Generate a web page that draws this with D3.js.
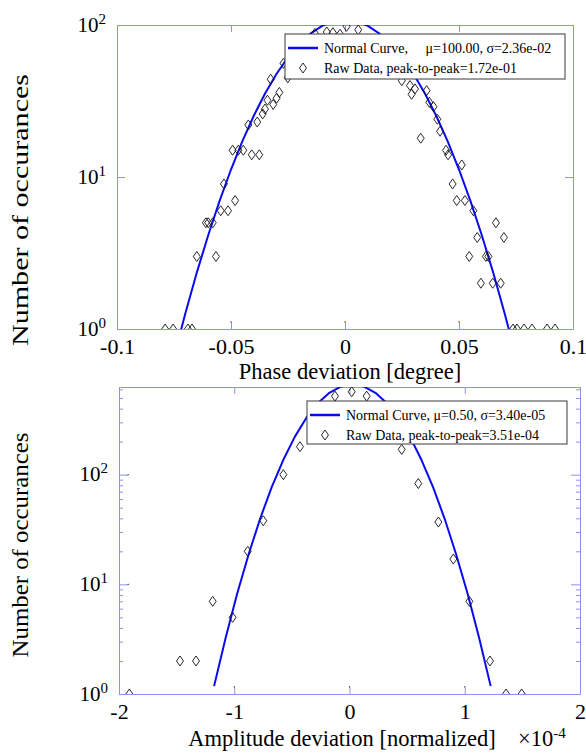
<!DOCTYPE html>
<html>
<head>
<meta charset="utf-8">
<script src="https://cdn.jsdelivr.net/npm/d3@7"></script>
<style>
  body { margin: 0; background: #fff; }
  svg { display: block; }
  text { font-family: "Liberation Serif", "Times New Roman", serif; fill: #000; }
</style>
</head>
<body>
<svg id="chart" width="586" height="753"></svg>
<script>
// ---- Phase deviation histogram (degree) ----
const phaseCurveX = [-0.075, -0.070, -0.065, -0.060, -0.055, -0.050, -0.045, -0.040, -0.035, -0.030,
                     -0.025, -0.020, -0.015, -0.010, -0.005, 0.000, 0.005, 0.010, 0.015, 0.020,
                     0.025, 0.030, 0.035, 0.040, 0.045, 0.050, 0.055, 0.060, 0.065, 0.070, 0.075];
const phaseCurveY = [0.66, 1.27, 2.35, 4.14, 6.97, 11.2, 17.2, 25.3, 35.6, 47.8,
                     61.3, 75.2, 88.1, 98.6, 105.6, 108, 105.6, 98.6, 88.1, 75.2,
                     61.3, 47.8, 35.6, 25.3, 17.2, 11.2, 6.97, 4.14, 2.35, 1.27, 0.66];
const phaseRawX = [-0.0789, -0.0754, -0.0689, -0.0671, -0.0650, -0.0610, -0.0600, -0.0580, -0.0566, -0.0545,
                   -0.0531, -0.0513, -0.0493, -0.0482, -0.0468, -0.0446, -0.0424, -0.0409, -0.0385, -0.0376,
                   -0.0361, -0.0351, -0.0340, -0.0326, -0.0315, -0.0300, -0.0288, -0.0270, -0.0251,
                   -0.0132, -0.0080, -0.0053, -0.0022, 0.0007, 0.0058,
                   0.0249, 0.0285, 0.0292, 0.0307, 0.0332, 0.0358, 0.0370, 0.0388, 0.0405, 0.0417,
                   0.0443, 0.0452, 0.0472, 0.0490, 0.0512, 0.0526, 0.0545, 0.0563, 0.0580, 0.0596,
                   0.0618, 0.0629, 0.0648, 0.0662, 0.0683, 0.0697, 0.0737, 0.0754, 0.0785, 0.0820,
                   0.0886, 0.0921];
const phaseRawCount = [1, 1, 1, 1, 3, 5, 5, 5, 3, 6,
                       9, 6, 15, 7, 15, 15, 22, 14, 23, 14,
                       26, 28, 32, 44, 30, 33, 36, 56, 45,
                       88, 90, 89, 87, 98, 93,
                       43, 40, 35, 38, 18, 37, 31, 29, 24, 20,
                       15, 14, 9, 7, 12, 7, 3, 6, 4, 2,
                       3, 3, 2, 5, 2, 4, 1, 1, 1, 1,
                       1, 1];
const phaseXTicks = [-0.1, -0.05, 0, 0.05, 0.1];
const phaseLegend = ["Normal Curve,     \u03bc=100.00, \u03c3=2.36e-02", "Raw Data, peak-to-peak=1.72e-01"];

// ---- Amplitude deviation histogram (normalized) ----
const ampCurveX = [-1.175e-4, -1.075e-4, -0.975e-4, -0.875e-4, -0.775e-4, -0.675e-4, -0.575e-4, -0.475e-4,
                   -0.375e-4, -0.275e-4, -0.175e-4, -0.075e-4, 0.025e-4, 0.125e-4, 0.225e-4, 0.325e-4,
                   0.425e-4, 0.525e-4, 0.625e-4, 0.725e-4, 0.825e-4, 0.925e-4, 1.025e-4, 1.125e-4, 1.225e-4];
const ampCurveY = [1.18, 3.24, 8.2, 18.8, 39.8, 77, 136, 221,
                   329, 448, 558, 636, 665, 636, 558, 448,
                   329, 221, 136, 77, 39.8, 18.8, 8.2, 3.24, 1.18];
const ampRawX = [-1.910e-4, -1.471e-4, -1.332e-4, -1.187e-4, -1.014e-4, -0.883e-4, -0.748e-4, -0.574e-4,
                 -0.430e-4, -0.126e-4, 0.019e-4, 0.149e-4, 0.453e-4, 0.597e-4, 0.771e-4, 0.901e-4,
                 1.040e-4, 1.219e-4, 1.358e-4, 1.494e-4];
const ampRawCount = [1, 2, 2, 7, 5, 20, 38, 100,
                     180, 520, 570, 520, 170, 83, 37, 17,
                     7, 2, 1, 1];
const ampXTicks = [-2e-4, -1e-4, 0, 1e-4, 2e-4];
const ampLegend = ["Normal Curve, \u03bc=0.50, \u03c3=3.40e-05", "Raw Data, peak-to-peak=3.51e-04"];

const decadeTicks = [1, 10, 100];

const AXIS_COLOR = "#9090ee";
const CURVE_COLOR = "#0a0af0";

const svg = d3.select("#chart");

function diamond(cx, cy, hw = 3.5, hh = 5) {
  return `M${cx},${cy - hh}L${cx + hw},${cy}L${cx},${cy + hh}L${cx - hw},${cy}Z`;
}

function drawPanel(cfg) {
  const { id, box, xDomain, yDomain, xTicks, xFormat, curveX, curveY, rawX, rawY,
          minorTicks, yTickLen, yTickDots, legend, xLabel, yLabel, yLabelBox } = cfg;
  const x = d3.scaleLinear().domain(xDomain).range([box.left, box.right]);
  const y = d3.scaleLog().domain(yDomain).range([box.bottom, box.top]);
  const g = svg.append("g").attr("id", id);

  g.append("clipPath").attr("id", id + "-clip")
    .append("rect")
    .attr("x", box.left).attr("y", box.top)
    .attr("width", box.right - box.left).attr("height", box.bottom - box.top);

  // axes box and ticks
  const styleAxis = sel => {
    sel.selectAll(".domain").attr("stroke", AXIS_COLOR).attr("stroke-width", 1);
    sel.selectAll(".tick line").attr("stroke", AXIS_COLOR).attr("stroke-width", 1);
  };
  const xb = g.append("g").attr("transform", `translate(0,${box.bottom})`)
    .call(d3.axisBottom(x).tickValues(xTicks).tickSizeInner(-7).tickSizeOuter(0)
      .tickPadding(9).tickFormat(xFormat));
  xb.selectAll(".tick text").attr("font-size", 22).attr("font-family", "Liberation Serif");
  styleAxis(xb);
  const xt = g.append("g").attr("transform", `translate(0,${box.top})`)
    .call(d3.axisTop(x).tickValues(xTicks).tickSizeInner(-7).tickSizeOuter(0).tickFormat(""));
  styleAxis(xt);

  const yl = g.append("g").attr("transform", `translate(${box.left},0)`)
    .call(d3.axisLeft(y).tickValues(decadeTicks).tickSizeInner(-yTickLen).tickSizeOuter(0)
      .tickPadding(11).tickFormat(""));
  styleAxis(yl);
  yl.selectAll(".tick text").each(function (d) {
    const t = d3.select(this).text(null)
      .attr("font-size", 21).attr("font-family", "Liberation Serif")
      .attr("text-anchor", "end").attr("dy", "0.3em");
    t.append("tspan").text("10");
    t.append("tspan").attr("font-size", 15).attr("dy", "-0.55em").text(Math.round(Math.log10(d)));
  });
  const yr = g.append("g").attr("transform", `translate(${box.right},0)`)
    .call(d3.axisRight(y).tickValues(decadeTicks).tickSizeInner(-yTickLen).tickSizeOuter(0).tickFormat(""));
  styleAxis(yr);

  if (minorTicks) {
    const minors = y.ticks().filter(v => !decadeTicks.includes(v));
    const ml = g.append("g").attr("transform", `translate(${box.left},0)`)
      .call(d3.axisLeft(y).tickValues(minors).tickSizeInner(-4).tickSizeOuter(0).tickFormat(""));
    ml.select(".domain").remove();
    styleAxis(ml);
    const mr = g.append("g").attr("transform", `translate(${box.right},0)`)
      .call(d3.axisRight(y).tickValues(minors).tickSizeInner(-4).tickSizeOuter(0).tickFormat(""));
    mr.select(".domain").remove();
    styleAxis(mr);
  }

  // dark tips at the inner end of the bottom ticks
  g.append("g").selectAll("rect").data(xTicks.slice(1, -1)).join("rect")
    .attr("x", d => x(d) - 0.5).attr("y", box.bottom - 8).attr("width", 1).attr("height", 1.5)
    .attr("fill", "#444");
  if (yTickDots) {
    g.append("g").selectAll("rect").data(decadeTicks.slice(1)).join("rect")
      .attr("x", box.left + yTickLen - 0.5).attr("y", d => y(d) - 0.5).attr("width", 1.5).attr("height", 1)
      .attr("fill", "#444");
  }

  // normal curve and raw data markers
  const plot = g.append("g").attr("clip-path", `url(#${id}-clip)`);
  const line = d3.line().x(d => x(d[0])).y(d => y(d[1]));
  plot.append("path")
    .datum(d3.zip(curveX, curveY))
    .attr("d", line)
    .attr("fill", "none").attr("stroke", CURVE_COLOR).attr("stroke-width", 2)
    .attr("stroke-linejoin", "round");
  plot.append("g").selectAll("path").data(d3.zip(rawX, rawY)).join("path")
    .attr("d", d => diamond(x(d[0]), y(d[1])))
    .attr("fill", "none").attr("stroke", "#111").attr("stroke-width", 0.9);

  // legend
  const lg = g.append("g");
  lg.append("rect")
    .attr("x", legend.x).attr("y", legend.y).attr("width", legend.w).attr("height", legend.h)
    .attr("fill", "#fff").attr("stroke", "#3a3a3a").attr("stroke-width", 1);
  const row1 = legend.y + 14, row2 = legend.y + 34;
  lg.append("line")
    .attr("x1", legend.x + 3).attr("x2", legend.x + 33).attr("y1", row1).attr("y2", row1)
    .attr("stroke", CURVE_COLOR).attr("stroke-width", 2.5);
  lg.append("path").attr("d", diamond(legend.x + 18, row2))
    .attr("fill", "none").attr("stroke", "#111").attr("stroke-width", 0.9);
  lg.selectAll("text.leg").data(legend.labels).join("text")
    .attr("class", "leg")
    .attr("x", legend.x + 39).attr("y", (d, i) => (i === 0 ? row1 : row2) + 5)
    .attr("font-size", 14).attr("xml:space", "preserve").style("white-space", "pre")
    .text(d => d);

  // axis titles
  g.append("text")
    .attr("x", xLabel.x).attr("y", xLabel.y).attr("text-anchor", "middle")
    .attr("font-size", 22.5).text(xLabel.text);
  g.append("text")
    .attr("transform", `translate(${yLabelBox.x},${yLabelBox.y}) rotate(-90)`)
    .attr("text-anchor", "middle").attr("font-size", 22.5)
    .attr("textLength", yLabelBox.len).attr("lengthAdjust", "spacingAndGlyphs")
    .text(yLabel);

  return { x, y, g };
}

drawPanel({
  id: "phase",
  box: { left: 117, right: 573, top: 25, bottom: 329 },
  xDomain: [-0.1, 0.1],
  yDomain: [1, 100],
  xTicks: phaseXTicks,
  xFormat: d => (d === 0 ? "0" : String(d)),
  curveX: phaseCurveX, curveY: phaseCurveY,
  rawX: phaseRawX, rawY: phaseRawCount,
  minorTicks: false, yTickLen: 8, yTickDots: false,
  legend: { x: 285, y: 34, w: 280, h: 45, labels: phaseLegend },
  xLabel: { x: 350, y: 379, text: "Phase deviation [degree]" },
  yLabel: "Number of occurances",
  yLabelBox: { x: 28, y: 210, len: 272 }
});

const amp = drawPanel({
  id: "amp",
  box: { left: 119, right: 580, top: 387, bottom: 694 },
  xDomain: [-2e-4, 2e-4],
  yDomain: [1, 630],
  xTicks: ampXTicks,
  xFormat: d => String(Math.round(d * 1e4)),
  curveX: ampCurveX, curveY: ampCurveY,
  rawX: ampRawX, rawY: ampRawCount,
  minorTicks: true, yTickLen: 9, yTickDots: true,
  legend: { x: 307, y: 401, w: 260, h: 43, labels: ampLegend },
  xLabel: { x: 342, y: 746, text: "Amplitude deviation [normalized]" },
  yLabel: "Number of occurances",
  yLabelBox: { x: 28, y: 545, len: 225 }
});

// exponent note for the amplitude axis
const expo = amp.g.append("text").attr("x", 518).attr("y", 746).attr("font-size", 22.5);
expo.append("tspan").text("\u00d710");
expo.append("tspan").attr("font-size", 15).attr("dy", -8).text("-4");
</script>
</body>
</html>
